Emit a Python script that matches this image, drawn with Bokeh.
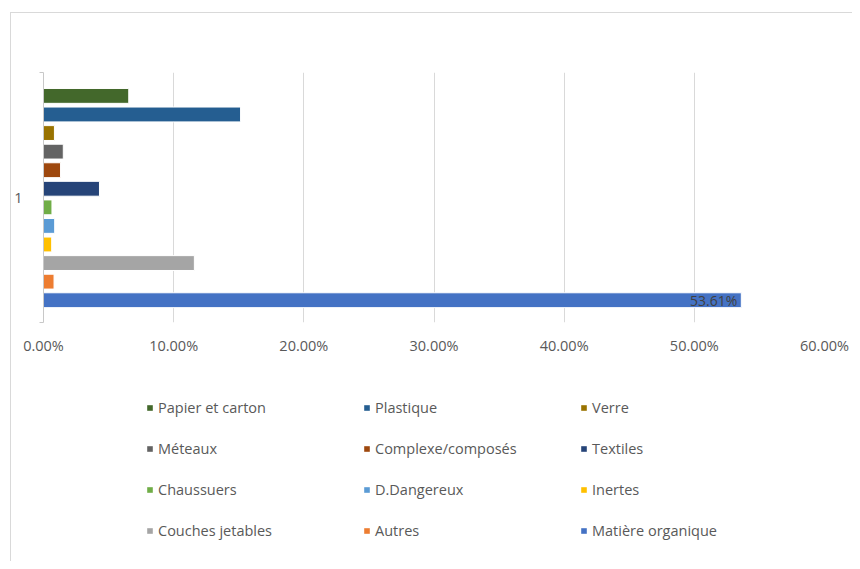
from bokeh.plotting import figure
from bokeh.layouts import column
from bokeh.models import (ColumnDataSource, Range1d, FixedTicker, NumeralTickFormatter,
                          Legend, LegendItem)
from bokeh.core.properties import value
from bokeh.embed import file_html
from bokeh.resources import INLINE

# ---- data ----
categories = ["Papier et carton", "Plastique", "Verre", "Méteaux", "Complexe/composés", "Textiles",
              "Chaussuers", "D.Dangereux", "Inertes", "Couches jetables", "Autres", "Matière organique"]
shares = [0.0655, 0.1514, 0.0084, 0.0152, 0.0131, 0.0430,
          0.0065, 0.0086, 0.0063, 0.1159, 0.0081, 0.5361]
colors = ["#43682B", "#255E91", "#997300", "#636363", "#9E480E", "#264478",
          "#70AD47", "#5B9BD5", "#FFC000", "#A5A5A5", "#ED7D31", "#4472C4"]
x_ticks = [0.0, 0.1, 0.2, 0.3, 0.4, 0.5, 0.6]
category_label = "1"

FONT = "Open Sans"
TXT = "#595959"

pos = list(range(len(categories)))
source = ColumnDataSource(dict(cat=categories, share=shares, color=colors, pos=pos))

W = 852
H_TOP, H_LEG = 365, 196

# ---------------- main chart ----------------
Y_TOP, Y_BOTTOM = -1.26, 12.2
p = figure(width=W, height=H_TOP, output_backend="svg", toolbar_location=None,
           x_range=Range1d(0, 0.6), y_range=Range1d(Y_BOTTOM, Y_TOP),
           min_border_left=43, min_border_right=28, min_border_top=72, min_border_bottom=43)
p.outline_line_color = None
p.background_fill_color = "white"
p.border_fill_alpha = 0

bars = p.hbar(y="pos", right="share", left=0, height=0.8, fill_color="color",
              line_color="white", line_width=1, source=source)

last = len(categories) - 1
p.text(x=[shares[last]], y=[pos[last]], text=[f"{shares[last]:.2%}"],
       text_align="right", text_baseline="middle", x_offset=-4,
       text_font=value(FONT), text_font_size="14px", text_color="#404040")

p.xaxis.ticker = FixedTicker(ticks=x_ticks)
p.xaxis.formatter = NumeralTickFormatter(format="0.00%")
p.xaxis.axis_line_color = None
p.xaxis.major_tick_line_color = None
p.xaxis.minor_tick_line_color = None
p.xaxis.major_tick_out = 0
p.xaxis.minor_tick_out = 0
p.xaxis.major_label_standoff = 13
p.xaxis.major_label_text_font = FONT
p.xaxis.major_label_text_font_size = "14.5px"
p.xaxis.major_label_text_color = TXT

p.xgrid.ticker = FixedTicker(ticks=x_ticks)
p.xgrid.grid_line_color = "#d9d9d9"
p.ygrid.grid_line_color = None

mid = (Y_BOTTOM + Y_TOP) / 2
p.yaxis.ticker = FixedTicker(ticks=[mid], minor_ticks=[Y_TOP + 0.01, Y_BOTTOM - 0.01])
p.yaxis.major_label_overrides = {mid: category_label}
p.yaxis.axis_line_color = "#c8c8c8"
p.yaxis.major_tick_line_color = None
p.yaxis.major_tick_out = 0
p.yaxis.minor_tick_line_color = "#c8c8c8"
p.yaxis.minor_tick_out = 4
p.yaxis.minor_tick_in = 0
p.yaxis.major_label_standoff = 17
p.yaxis.major_label_text_font = FONT
p.yaxis.major_label_text_font_size = "14.5px"
p.yaxis.major_label_text_color = TXT

# ---------------- legend panel ----------------
q = figure(width=W, height=H_LEG, output_backend="svg", toolbar_location=None,
           x_range=Range1d(-2, -1), y_range=Range1d(-2, -1),
           x_axis_location=None, y_axis_location=None,
           min_border_left=0, min_border_right=0, min_border_top=0, min_border_bottom=0)
q.outline_line_color = None
q.background_fill_alpha = 0
q.border_fill_alpha = 0
q.grid.grid_line_color = None
# legend-only swatches (not drawn in the panel itself)
swatches = q.hbar(y="pos", right="share", left=0, height=0.8, fill_color="color",
                  line_alpha=0, source=source)
swatches.visible = False

col_x = [103, 320, 537]
for c in range(3):
    items = [LegendItem(label=categories[i], renderers=[swatches], index=i)
             for i in range(c, len(categories), 3)]
    lg = Legend(items=items, location=(col_x[c], 21), orientation="vertical",
                glyph_width=7, glyph_height=7, label_height=20, spacing=21,
                label_standoff=5, padding=0, margin=0,
                border_line_color=None, background_fill_alpha=0,
                label_text_font=FONT, label_text_font_size="14.5px",
                label_text_color=TXT)
    q.add_layout(lg, "center")

layout = column(p, q, spacing=0, styles={
    "background-color": "white",
    "background-image": "linear-gradient(#d9d9d9, #d9d9d9), linear-gradient(#d9d9d9, #d9d9d9)",
    "background-size": "1px 100%, 100% 1px",
    "background-position": "10px 12px, 10px 12px",
    "background-repeat": "no-repeat",
})

open("out.html", "w").write(file_html(layout, INLINE))
